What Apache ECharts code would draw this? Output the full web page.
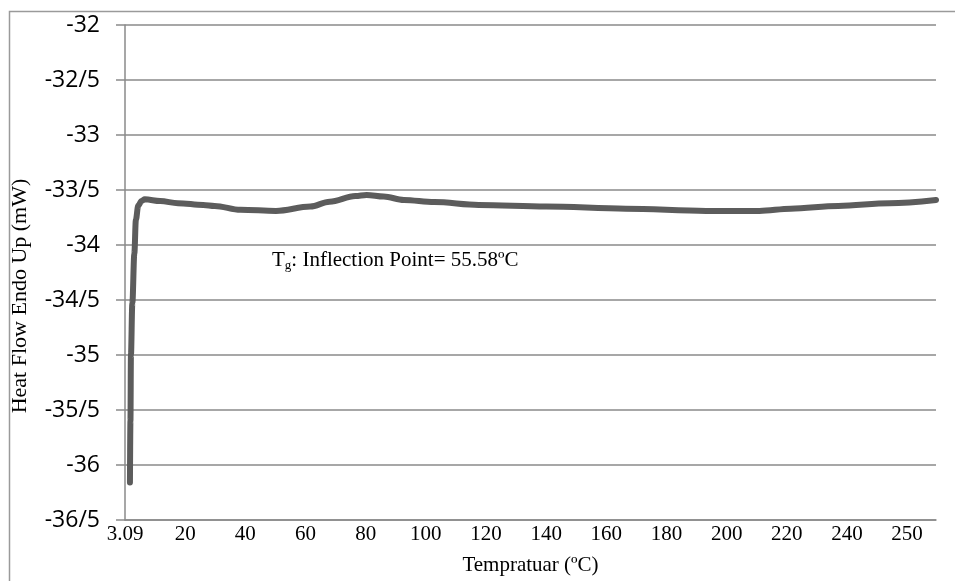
<!DOCTYPE html>
<html>
<head>
<meta charset="utf-8">
<script src="https://cdn.jsdelivr.net/npm/echarts@6/dist/echarts.min.js"></script>
<style>
  html, body { margin: 0; padding: 0; background: #ffffff; }
  #chart { width: 955px; height: 581px; }
</style>
</head>
<body>
<div id="chart"></div>
<script>
// Tick labels of the temperature axis and the temperatures they stand for
const xTickLabels = ['3.09', '20', '40', '60', '80', '100', '120', '140', '160', '180', '200', '220', '240', '250'];
const xTickTemps = [3.09, 20, 40, 60, 80, 100, 120, 140, 160, 180, 200, 220, 240, 250];

// Heat-flow axis labels, bottom to top
const yTickLabels = ['-36/5', '-36', '-35/5', '-35', '-34/5', '-34', '-33/5', '-33', '-32/5', '-32'];

// DSC trace: temperature (ºC) and heat flow (mW)
const temperature = [4.48, 4.62, 4.76, 5.15, 5.71, 6.15, 6.82, 7.74, 8.66, 13.0, 17.97, 26.0, 29.8, 38.4, 50.2,
  61.6, 68.0, 76.6, 80.3, 86.0, 92.7, 102.8, 117.6, 140.0, 166.5, 193.2, 210.9, 221.3, 237.1, 247.1, 254.8];
const heatFlow = [-36.16, -35.6, -35.0, -34.53, -34.08, -33.77, -33.64, -33.60, -33.585, -33.60, -33.62, -33.636, -33.645, -33.68, -33.69,
  -33.65, -33.606, -33.555, -33.545, -33.56, -33.59, -33.61, -33.636, -33.65, -33.67, -33.69, -33.69, -33.67, -33.645, -33.62, -33.59];

// The temperature axis has evenly spaced labelled slots; place a temperature
// inside the slot of its neighbouring labels.
function toSlot(t) {
  const n = xTickTemps.length;
  let k = 0;
  while (k < n - 2 && t > xTickTemps[k + 1]) k++;
  return k + (t - xTickTemps[k]) / (xTickTemps[k + 1] - xTickTemps[k]);
}

const points = temperature.map((t, i) => [toSlot(t), heatFlow[i]]);
const slotValues = xTickLabels.map((_, i) => i);

const gridGray = '#8a8a8a';
const chart = echarts.init(document.getElementById('chart'), null, { renderer: 'canvas' });

chart.setOption({
  animation: false,
  backgroundColor: '#ffffff',
  grid: { left: 125, right: 19, top: 25, bottom: 61, containLabel: false },
  xAxis: {
    type: 'value',
    min: 0,
    max: 13.48,
    name: 'Tempratuar (ºC)',
    nameLocation: 'middle',
    nameGap: 35,
    nameTextStyle: { fontFamily: 'Liberation Serif', fontSize: 21, color: '#000' },
    axisLine: { show: true, lineStyle: { color: gridGray, width: 1.5 } },
    axisTick: { show: false, customValues: slotValues },
    splitLine: { show: false },
    axisLabel: {
      customValues: slotValues,
      formatter: v => xTickLabels[Math.round(v)],
      fontFamily: 'Liberation Serif',
      fontSize: 21,
      color: '#000',
      margin: 4
    }
  },
  yAxis: {
    type: 'value',
    min: -36.5,
    max: -32,
    interval: 0.5,
    axisLine: { show: true, lineStyle: { color: gridGray, width: 1.5 } },
    axisTick: { show: true, inside: false, length: 9, lineStyle: { color: gridGray, width: 1.5 } },
    splitLine: { show: true, lineStyle: { color: gridGray, width: 1.5 } },
    axisLabel: {
      formatter: v => yTickLabels[Math.round((v + 36.5) / 0.5)],
      fontFamily: 'Open Sans',
      fontSize: 23,
      color: '#000',
      margin: 25
    }
  },
  series: [{
    type: 'line',
    data: points,
    showSymbol: false,
    smooth: 0.35,
    smoothMonotone: 'x',
    clip: false,
    lineStyle: { color: '#5c5c5c', width: 6, cap: 'round', join: 'round' }
  }],
  graphic: [
    {
      type: 'rect',
      left: 7, top: 9,
      shape: { x: 0, y: 0, width: 1000, height: 700 },
      style: { fill: 'none', stroke: '#9a9a9a', lineWidth: 1.5 },
      silent: true
    },
    {
      type: 'text',
      x: 20, y: 296,
      rotation: Math.PI / 2,
      style: {
        text: 'Heat Flow Endo Up (mW)',
        fontFamily: 'Liberation Serif',
        fontSize: 22,
        fill: '#000',
        align: 'center',
        verticalAlign: 'middle'
      }
    },
    {
      type: 'text',
      x: 272, y: 260,
      style: {
        text: '{m|T}{s|g}{m|: Inflection Point= 55.58ºC}',
        verticalAlign: 'middle',
        rich: {
          m: { fontFamily: 'Liberation Serif', fontSize: 21, fill: '#000', lineHeight: 24, verticalAlign: 'middle' },
          s: { fontFamily: 'Liberation Serif', fontSize: 13, fill: '#000', lineHeight: 10, verticalAlign: 'bottom' }
        }
      }
    }
  ]
});
</script>
</body>
</html>
